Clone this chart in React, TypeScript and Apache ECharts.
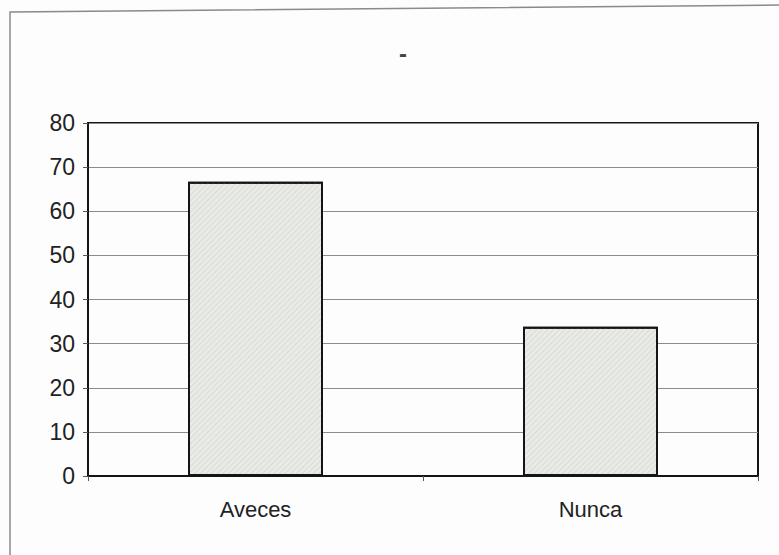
import React, { useEffect, useRef } from "react";
import * as echarts from "echarts";

const categories: string[] = ["Aveces", "Nunca"];
const values: number[] = [66.7, 33.8];
const yTicks = { min: 0, max: 80, interval: 10 };
const titleText = "-";

export default function App() {
  const ref = useRef<HTMLDivElement>(null);
  useEffect(() => {
    if (!ref.current) return;
    const chart = echarts.init(ref.current, undefined, { renderer: "svg" });
    const font = "Liberation Sans, Arial, sans-serif";
    chart.setOption({
      animation: false,
      backgroundColor: "#fdfdfd",
      aria: { enabled: false, decal: { show: true } },
      title: {
        text: titleText,
        left: 398,
        top: 36,
        textAlign: "center",
        textStyle: { fontFamily: font, fontSize: 24, fontWeight: "bold", color: "#444" },
      },
      graphic: [
        {
          type: "polyline",
          shape: { points: [[10, 560], [10, 12], [779, 5]] },
          style: { stroke: "#8a8a8a", lineWidth: 1.5, fill: "none" },
          silent: true,
        },
      ],
      grid: {
        left: 88,
        right: 21,
        top: 123,
        bottom: 79,
        show: true,
        borderColor: "#151515",
        borderWidth: 2,
        backgroundColor: "transparent",
      },
      xAxis: {
        type: "category",
        data: categories,
        axisLine: { lineStyle: { color: "#151515", width: 2 } },
        axisTick: { show: true, length: 5, lineStyle: { color: "#555", width: 1 } },
        axisLabel: { fontFamily: font, fontSize: 22, color: "#222", margin: 22 },
      },
      yAxis: {
        type: "value",
        min: yTicks.min,
        max: yTicks.max,
        interval: yTicks.interval,
        axisLine: { show: true, lineStyle: { color: "#151515", width: 2 } },
        axisTick: { show: true, length: 5, lineStyle: { color: "#555", width: 1 } },
        axisLabel: { fontFamily: font, fontSize: 23, color: "#222", margin: 13 },
        splitLine: { show: true, lineStyle: { color: "#8c8c8c", width: 1 } },
      },
      series: [
        {
          type: "bar",
          data: values,
          barWidth: 135,
          itemStyle: {
            color: "#e9ebe6",
            borderColor: "#151515",
            borderWidth: 2,
            decal: {
              symbol: "rect",
              symbolSize: 1,
              dashArrayX: [1, 0],
              dashArrayY: [1, 3],
              rotation: -Math.PI / 4,
              color: "rgba(205,208,203,0.6)",
            },
          },
        },
      ],
    });
    return () => chart.dispose();
  }, []);
  return (
    <div
      ref={ref}
      style={{ position: "fixed", left: 0, top: 0, width: 779, height: 555 }}
    />
  );
}
